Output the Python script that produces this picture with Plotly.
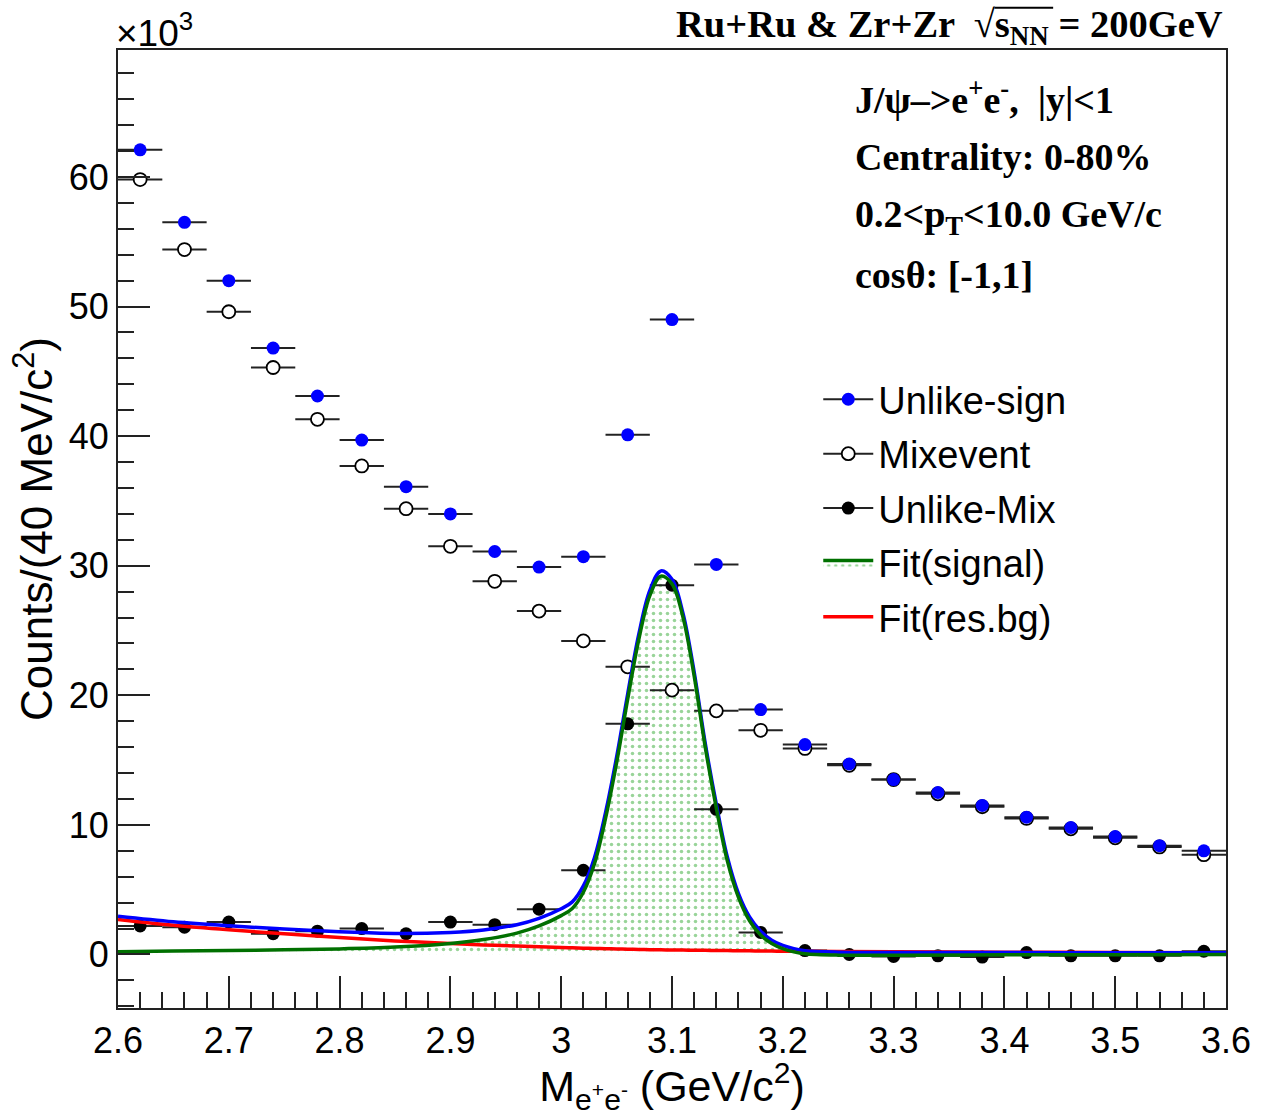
import plotly.graph_objects as go

# ---------------- data (units of 10^3 counts) ----------------
mass = [2.62, 2.66, 2.70, 2.74, 2.78, 2.82, 2.86, 2.90, 2.94, 2.98, 3.02, 3.06, 3.10,
        3.14, 3.18, 3.22, 3.26, 3.30, 3.34, 3.38, 3.42, 3.46, 3.50, 3.54, 3.58]
bin_half_width = 0.02

unlike_sign = [62.1, 56.5, 52.0, 46.8, 43.1, 39.7, 36.1, 34.0, 31.1, 29.9, 30.7, 40.1, 49.0,
               30.1, 18.9, 16.2, 14.7, 13.5, 12.5, 11.5, 10.6, 9.8, 9.1, 8.4, 8.0]
mixevent = [59.8, 54.4, 49.6, 45.3, 41.3, 37.7, 34.4, 31.5, 28.8, 26.5, 24.2, 22.2, 20.4,
            18.8, 17.3, 15.9, 14.6, 13.5, 12.4, 11.4, 10.5, 9.7, 9.0, 8.3, 7.7]
unlike_mix = [2.2, 2.1, 2.5, 1.6, 1.8, 2.0, 1.6, 2.5, 2.3, 3.5, 6.5, 17.8, 28.5,
              11.2, 1.7, 0.3, 0.0, -0.15, -0.1, -0.2, 0.15, -0.1, -0.1, -0.1, 0.25]

curve_x = [2.60, 2.65, 2.70, 2.75, 2.80, 2.85, 2.90, 2.93, 2.96, 2.98, 3.00, 3.01, 3.02,
           3.03, 3.04, 3.05, 3.06, 3.07, 3.08, 3.09, 3.10, 3.11, 3.12, 3.13, 3.14, 3.15,
           3.16, 3.17, 3.18, 3.19, 3.20, 3.21, 3.22, 3.25, 3.30, 3.40, 3.50, 3.60]
fit_signal = [0.22, 0.27, 0.31, 0.36, 0.43, 0.57, 0.85, 1.15, 1.65, 2.2, 3.0, 3.55, 4.8,
              7.0, 10.5, 14.8, 19.7, 24.3, 27.7, 29.2, 28.6, 26.0, 21.5, 16.0, 11.3, 7.2,
              4.4, 2.6, 1.5, 0.85, 0.45, 0.2, 0.05, -0.05, -0.05, -0.03, -0.02, 0.0]
fit_resbg = [2.70, 2.25, 1.90, 1.60, 1.32, 1.05, 0.85, 0.74, 0.65, 0.59, 0.53, 0.51, 0.49,
             0.47, 0.45, 0.43, 0.41, 0.39, 0.37, 0.36, 0.35, 0.34, 0.33, 0.32, 0.31, 0.30,
             0.29, 0.28, 0.27, 0.26, 0.25, 0.25, 0.24, 0.23, 0.21, 0.18, 0.15, 0.13]
fit_total = [2.95, 2.52, 2.21, 1.96, 1.75, 1.62, 1.70, 1.89, 2.30, 2.79, 3.53, 4.06, 5.29,
             7.47, 10.95, 15.23, 20.1, 24.7, 28.1, 29.6, 28.95, 26.3, 21.8, 16.3, 11.6, 7.5,
             4.7, 2.9, 1.8, 1.1, 0.7, 0.45, 0.29, 0.18, 0.16, 0.15, 0.13, 0.13]

x_ticks = [2.6, 2.7, 2.8, 2.9, 3.0, 3.1, 3.2, 3.3, 3.4, 3.5, 3.6]
x_tick_labels = ["2.6", "2.7", "2.8", "2.9", "3", "3.1", "3.2", "3.3", "3.4", "3.5", "3.6"]
y_ticks = [0, 10, 20, 30, 40, 50, 60]

SANS = "Arial, Liberation Sans, sans-serif"
SERIF = "Times New Roman, Liberation Serif, serif"
GREEN = "#007000"
FILLPAT = dict(shape=".", fgcolor="#33aa33", bgcolor="rgba(255,255,255,0)", size=7, solidity=0.2)

fig = go.Figure()

# signal fill
fig.add_trace(go.Scatter(x=curve_x, y=fit_signal, mode="lines", line=dict(width=0, shape="spline"),
                         fill="tozeroy", fillpattern=FILLPAT, fillcolor="rgba(0,0,0,0)",
                         showlegend=False, hoverinfo="skip"))

err = dict(type="constant", value=bin_half_width, thickness=2, width=0, color="#222222")

fig.add_trace(go.Scatter(x=mass, y=mixevent, mode="markers", error_x=err,
                         marker=dict(symbol="circle", size=13, color="white",
                                     line=dict(color="black", width=1.8)), showlegend=False))
fig.add_trace(go.Scatter(x=mass, y=unlike_sign, mode="markers", error_x=err,
                         marker=dict(symbol="circle", size=13, color="#0000ff",
                                     line=dict(width=0)), showlegend=False))
fig.add_trace(go.Scatter(x=mass, y=unlike_mix, mode="markers", error_x=err,
                         marker=dict(symbol="circle", size=13, color="black",
                                     line=dict(width=0)), showlegend=False))

# fit curves
fig.add_trace(go.Scatter(x=curve_x, y=fit_resbg, mode="lines",
                         line=dict(color="#ff0000", width=3.5, shape="spline"), showlegend=False))
fig.add_trace(go.Scatter(x=curve_x, y=fit_total, mode="lines",
                         line=dict(color="#0000ff", width=3.5, shape="spline"), showlegend=False))
fig.add_trace(go.Scatter(x=curve_x, y=fit_signal, mode="lines",
                         line=dict(color=GREEN, width=3.5, shape="spline"), showlegend=False))

# legend entries
fig.add_trace(go.Scatter(x=[None], y=[None], mode="lines+markers", name="Unlike-sign",
                         line=dict(color="#222222", width=2),
                         marker=dict(size=13, color="#0000ff"), legendgroup="a"))
fig.add_trace(go.Scatter(x=[None], y=[None], mode="lines+markers", name="Mixevent",
                         line=dict(color="#222222", width=2),
                         marker=dict(size=13, color="white", line=dict(color="black", width=1.8)),
                         legendgroup="b"))
fig.add_trace(go.Scatter(x=[None], y=[None], mode="lines+markers", name="Unlike-Mix",
                         line=dict(color="#222222", width=2),
                         marker=dict(size=13, color="black"), legendgroup="c"))
fig.add_trace(go.Scatter(x=[None], y=[None], mode="lines", name="Fit(signal)",
                         line=dict(color=GREEN, width=3.5), fill="toself",
                         fillpattern=FILLPAT, fillcolor="rgba(0,0,0,0)", legendgroup="d"))
fig.add_trace(go.Scatter(x=[None], y=[None], mode="lines", name="Fit(res.bg)",
                         line=dict(color="#ff0000", width=3.5), legendgroup="e"))

axis_common = dict(showgrid=False, zeroline=False, showline=True, linecolor="#222222",
                   linewidth=2, mirror=True, ticks="inside", tickcolor="#222222",
                   tickwidth=1.5, ticklen=32,
                   tickfont=dict(family=SANS, size=36, color="black"))

fig.update_xaxes(range=[2.6, 3.6], tickvals=x_ticks, ticktext=x_tick_labels,
                 minor=dict(ticks="inside", ticklen=16, tickwidth=1.5, tickcolor="#222222", dtick=0.02,
                            tick0=2.6),
                 title=dict(text="M<sub>e<sup>+</sup>e<sup>-</sup></sub> (GeV/c<sup>2</sup>)",
                            font=dict(family=SANS, size=43, color="black"), standoff=12),
                 **axis_common)
fig.update_yaxes(range=[-4.13, 69.8], tickvals=y_ticks,
                 minor=dict(ticks="inside", ticklen=16, tickwidth=1.5, tickcolor="#222222", dtick=2,
                            tick0=0),
                 title=dict(text="Counts/(40 MeV/c<sup>2</sup>)",
                            font=dict(family=SANS, size=44, color="black"), standoff=2),
                 **axis_common)

fig.update_layout(
    width=1263, height=1116,
    margin=dict(l=118, r=33, t=50, b=108),
    paper_bgcolor="white", plot_bgcolor="white",
    legend=dict(x=0.632, y=0.668, xanchor="left", yanchor="top",
                font=dict(family=SANS, size=38, color="black"),
                bgcolor="rgba(0,0,0,0)", itemwidth=50, tracegroupgap=2),
    shapes=[dict(type="line", xref="paper", yref="paper", x0=0.791, x1=0.844,
                 y0=1.044, y1=1.044, line=dict(color="black", width=2))],
    annotations=[
        dict(text="×10<sup>3</sup>", xref="paper", yref="paper", x=-0.004, y=0.994,
             xanchor="left", yanchor="bottom", showarrow=False,
             font=dict(family=SANS, size=37, color="black")),
        dict(text="<b>Ru+Ru &amp; Zr+Zr  √s<sub>NN</sub> = 200GeV</b>", xref="paper", yref="paper",
             x=0.999, y=1.024, xanchor="right", yanchor="middle", showarrow=False,
             font=dict(family=SERIF, size=38.5, color="black")),
        dict(text="<b>J/ψ–&gt;e<sup>+</sup>e<sup>-</sup>,  |y|&lt;1</b>", xref="paper", yref="paper",
             x=0.663, y=0.951, xanchor="left", yanchor="middle", showarrow=False,
             font=dict(family=SERIF, size=38, color="black")),
        dict(text="<b>Centrality: 0-80%</b>", xref="paper", yref="paper",
             x=0.663, y=0.888, xanchor="left", yanchor="middle", showarrow=False,
             font=dict(family=SERIF, size=38, color="black")),
        dict(text="<b>0.2&lt;p<sub>T</sub>&lt;10.0 GeV/c</b>", xref="paper", yref="paper",
             x=0.663, y=0.826, xanchor="left", yanchor="middle", showarrow=False,
             font=dict(family=SERIF, size=38, color="black")),
        dict(text="<b>cosθ: [-1,1]</b>", xref="paper", yref="paper",
             x=0.663, y=0.765, xanchor="left", yanchor="middle", showarrow=False,
             font=dict(family=SERIF, size=38, color="black")),
    ],
)

fig.write_html("out.html")
